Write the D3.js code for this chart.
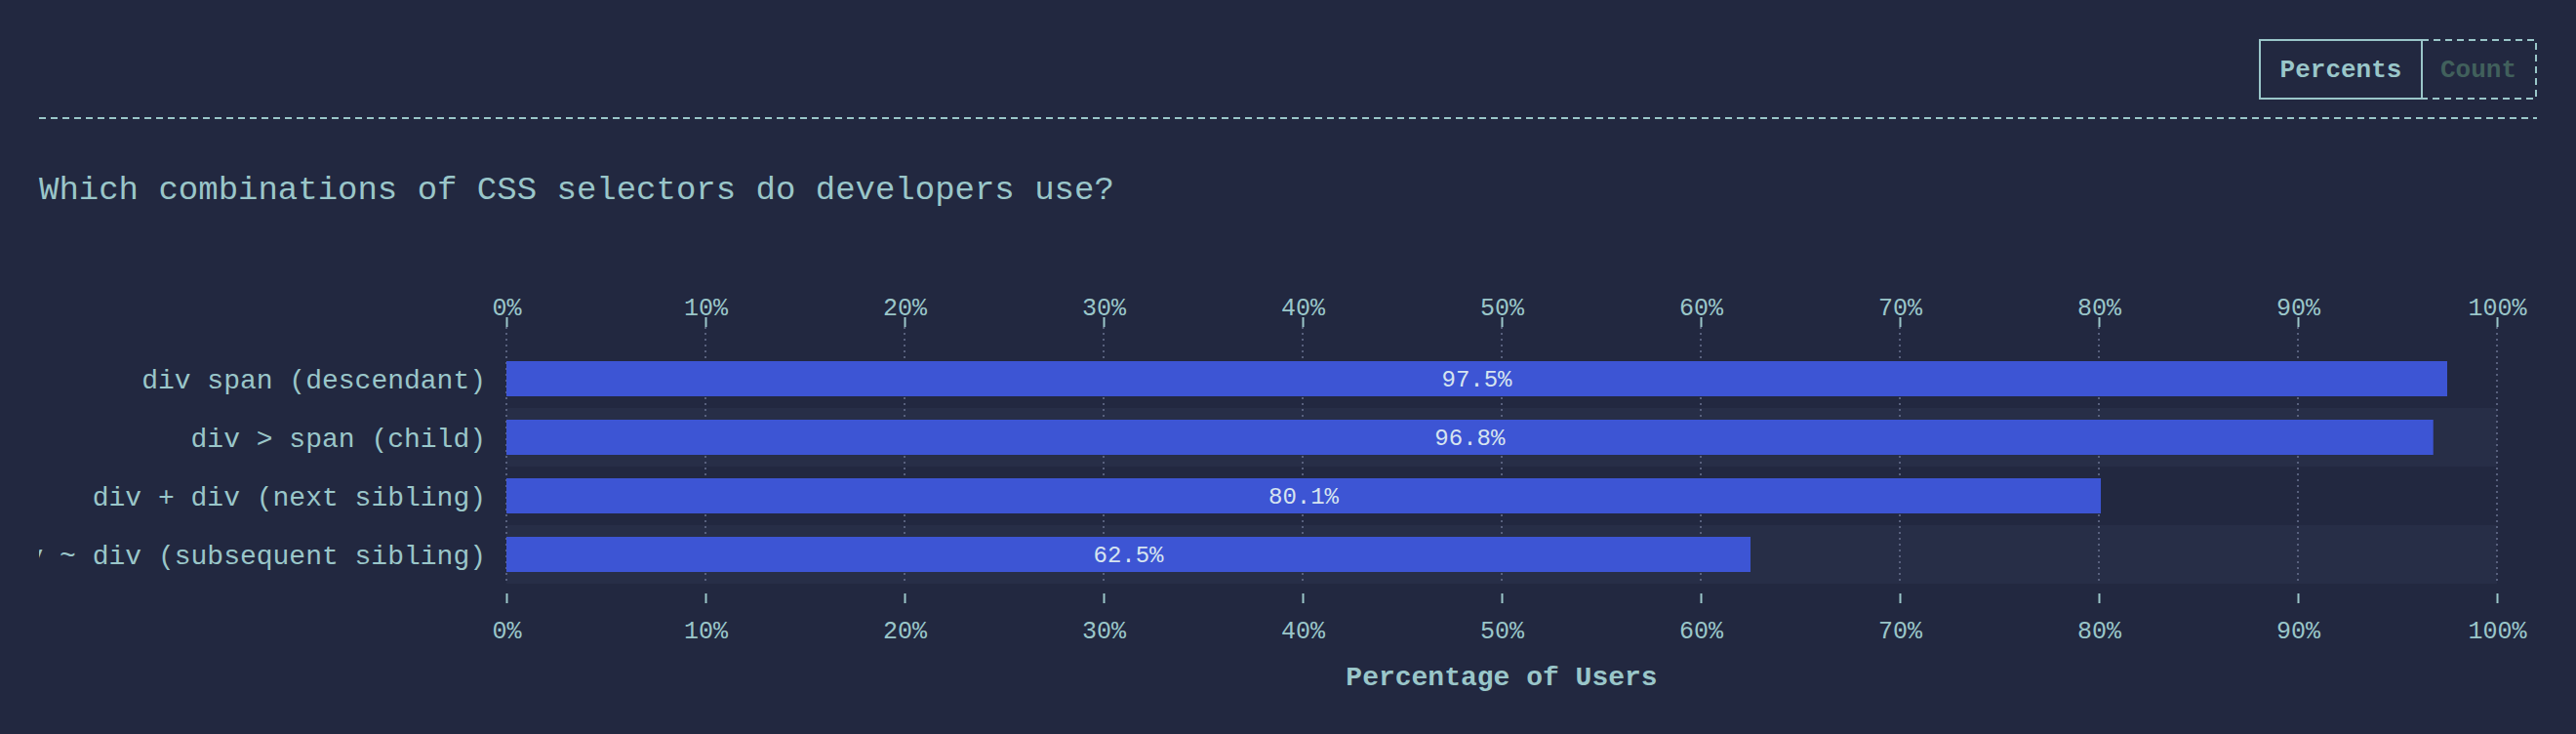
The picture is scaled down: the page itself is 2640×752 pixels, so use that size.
<!DOCTYPE html>
<html><head><meta charset="utf-8">
<script src="https://cdn.jsdelivr.net/npm/d3@7"></script>
<style>body{margin:0;background:#222840;}svg{display:block}</style></head>
<body><svg id="c" width="2640" height="752"></svg>
<script>
const categories = ["div span (descendant)","div > span (child)","div + div (next sibling)","div ~ div (subsequent sibling)"];
const values = [97.5, 96.8, 80.1, 62.5];
const tickValues = [0,10,20,30,40,50,60,70,80,90,100];
const title = "Which combinations of CSS selectors do developers use?";
const axisTitle = "Percentage of Users";

const FONT = "'Liberation Mono','DejaVu Sans Mono',monospace";
const TXT = "#9ac6c9";
const svg = d3.select("#c");
svg.append("rect").attr("width",2640).attr("height",752).attr("fill","#222840");

const x = d3.scaleLinear().domain([0,100]).range([519,2559]);
const y = d3.scaleBand().domain(categories).range([358,598]).paddingInner(0).paddingOuter(0);

// header
svg.append("line").attr("x1",40).attr("x2",2600).attr("y1",121).attr("y2",121)
  .attr("stroke",TXT).attr("stroke-width",2).attr("stroke-dasharray","7,5");
svg.append("rect").attr("x",2316).attr("y",41).attr("width",166).attr("height",60)
  .attr("fill","none").attr("stroke",TXT).attr("stroke-width",2);
svg.append("rect").attr("x",2482).attr("y",41).attr("width",117).attr("height",60)
  .attr("fill","none").attr("stroke",TXT).attr("stroke-width",2).attr("stroke-dasharray","7,5");
svg.append("text").attr("x",2399).attr("y",79).attr("text-anchor","middle").attr("fill",TXT)
  .attr("font-family",FONT).attr("font-weight","bold").attr("font-size",26).text("Percents");
svg.append("text").attr("x",2540).attr("y",79).attr("text-anchor","middle").attr("fill","#41605c")
  .attr("font-family",FONT).attr("font-weight","bold").attr("font-size",26).text("Count");
svg.append("text").attr("x",40).attr("y",204).attr("fill",TXT).attr("font-family",FONT)
  .attr("font-size",34).text(title);

// row bands
svg.selectAll(".band").data(categories).join("rect")
  .attr("x",x(0)).attr("width",x(100)-x(0)).attr("y",d=>y(d)).attr("height",y.bandwidth())
  .attr("fill",(d,i)=>i%2?"#272e47":"none");

// grid
svg.selectAll(".grid").data(tickValues).join("line")
  .attr("x1",d=>x(d)).attr("x2",d=>x(d)).attr("y1",335).attr("y2",598)
  .attr("stroke","#6a7290").attr("stroke-width",1.5).attr("stroke-dasharray","2,4");

function axis(gen, ty, pad){
  const g = svg.append("g").attr("transform",`translate(0,${ty})`)
    .call(gen.tickValues(tickValues).tickFormat(d=>d+"%").tickSize(10).tickPadding(pad));
  g.select(".domain").remove();
  g.selectAll("line").attr("stroke",TXT).attr("stroke-width",2);
  g.selectAll("text").attr("fill",TXT).attr("font-family",FONT).attr("font-size",25);
}
axis(d3.axisTop(x),335,2);
axis(d3.axisBottom(x),608,18);

// bars
const bh = 36;
svg.selectAll(".bar").data(values).join("rect")
  .attr("x",x(0)).attr("y",(d,i)=>y(categories[i])+(y.bandwidth()-bh)/2)
  .attr("width",d=>x(d)-x(0)).attr("height",bh).attr("fill","#3d55d4");
svg.selectAll(".vl").data(values).join("text")
  .attr("x",d=>(x(0)+x(d))/2).attr("y",(d,i)=>y(categories[i])+y.bandwidth()/2+8)
  .attr("text-anchor","middle").attr("fill","#d6e4f0").attr("font-family",FONT).attr("font-size",24)
  .text(d=>d.toFixed(1)+"%");

// category labels, clipped
svg.append("clipPath").attr("id","lc").append("rect").attr("x",40).attr("y",340).attr("width",470).attr("height",270);
svg.append("g").attr("clip-path","url(#lc)").selectAll("text").data(categories).join("text")
  .attr("x",498).attr("y",d=>y(d)+y.bandwidth()/2+10).attr("text-anchor","end")
  .attr("fill",TXT).attr("font-family",FONT).attr("font-size",28).text(d=>d);

svg.append("text").attr("x",(x(0)+x(100))/2).attr("y",702).attr("text-anchor","middle")
  .attr("fill",TXT).attr("font-family",FONT).attr("font-weight","bold").attr("font-size",28).text(axisTitle);
</script></body></html>
